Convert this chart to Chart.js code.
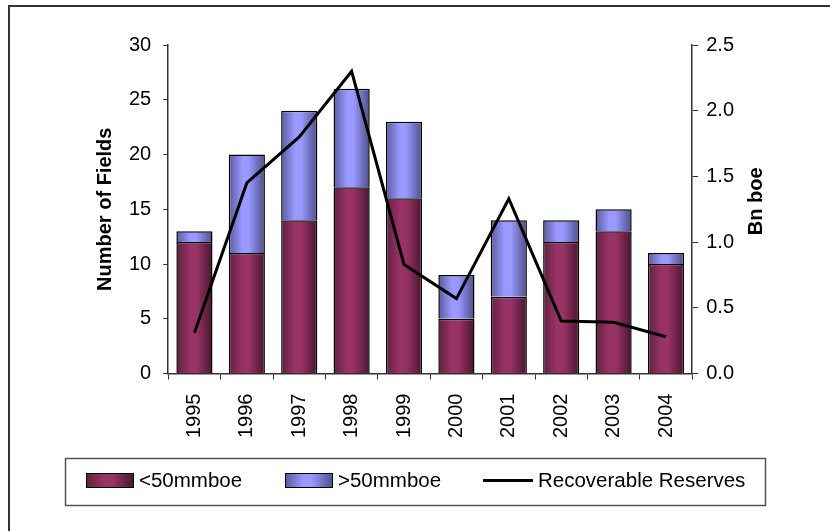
<!DOCTYPE html>
<html>
<head>
<meta charset="utf-8">
<script src="https://cdn.jsdelivr.net/npm/chart.js@4"></script>
<style>
  html, body { margin: 0; padding: 0; background: #fff; }
  #wrap { width: 830px; height: 531px; }
</style>
</head>
<body>
<div id="wrap"><canvas id="myChart" width="830" height="531"></canvas></div>
<script>
// Data
const years = ['1995', '1996', '1997', '1998', '1999', '2000', '2001', '2002', '2003', '2004'];
const smallFields = [12, 11, 14, 17, 16, 5, 7, 12, 13, 10];   // <50mmboe
const largeFields = [1, 9, 10, 9, 7, 4, 7, 2, 2, 1];          // >50mmboe
const reserves = [0.31, 1.45, 1.80, 2.30, 0.83, 0.57, 1.33, 0.40, 0.39, 0.28]; // Bn boe
const leftTicks = [0, 5, 10, 15, 20, 25, 30];
const rightTicks = [0, 0.5, 1.0, 1.5, 2.0, 2.5];

const FONT = "'Liberation Sans', Arial, sans-serif";
const barShare = 0.69;

// cylinder-like shading across each bar
function barFill(edge, base, shade) {
    return function (c) {
        const chart = c.chart;
        const area = chart.chartArea;
        if (!area || c.type !== 'data') return base;
        const x = chart.scales.x.getPixelForValue(c.dataIndex);
        const w = (area.right - area.left) / years.length * barShare;
        const g = chart.ctx.createLinearGradient(x - w / 2, 0, x + w / 2, 0);
        g.addColorStop(0, edge);
        g.addColorStop(0.38, base);
        g.addColorStop(0.55, base);
        g.addColorStop(1, shade);
        return g;
    };
}

const plum = ['#5e2140', '#993366', '#4a1530'];
const blue = ['#5a5a9e', '#9999ff', '#4e4e8a'];

// frame, right axis title, boxed legend
const extras = {
    id: 'extras',
    afterDraw(chart) {
        const ctx = chart.ctx;
        const area = chart.chartArea;
        ctx.save();
        // outer frame
        ctx.strokeStyle = '#333';
        ctx.lineWidth = 2;
        ctx.beginPath();
        ctx.moveTo(9, 531);
        ctx.lineTo(9, 6);
        ctx.lineTo(830, 6);
        ctx.stroke();

        // right axis title
        ctx.fillStyle = '#000';
        ctx.font = 'bold 20px ' + FONT;
        ctx.textAlign = 'center';
        ctx.textBaseline = 'middle';
        ctx.translate(756, (area.top + area.bottom) / 2 - 8);
        ctx.rotate(-Math.PI / 2);
        ctx.fillText('Bn boe', 0, 0);
        ctx.setTransform(1, 0, 0, 1, 0, 0);
        ctx.restore();

        // legend
        ctx.save();
        ctx.strokeStyle = '#555';
        ctx.lineWidth = 1.5;
        ctx.strokeRect(65.5, 458.5, 700, 47);
        ctx.font = '20.5px ' + FONT;
        ctx.textAlign = 'left';
        ctx.textBaseline = 'middle';
        const ds = chart.data.datasets;
        const items = [
            { x: 86, cols: plum, label: ds[1].label },
            { x: 285, cols: blue, label: ds[2].label }
        ];
        items.forEach(function (it) {
            const g = ctx.createLinearGradient(it.x, 0, it.x + 48, 0);
            g.addColorStop(0, it.cols[0]);
            g.addColorStop(0.38, it.cols[1]);
            g.addColorStop(0.55, it.cols[1]);
            g.addColorStop(1, it.cols[2]);
            ctx.fillStyle = g;
            ctx.fillRect(it.x, 473, 48, 15);
            ctx.strokeStyle = '#000';
            ctx.lineWidth = 1;
            ctx.strokeRect(it.x + 0.5, 473.5, 47, 14);
            ctx.fillStyle = '#000';
            ctx.fillText(it.label, it.x + 53, 481);
        });
        ctx.strokeStyle = '#000';
        ctx.lineWidth = 3;
        ctx.beginPath();
        ctx.moveTo(483, 480.5);
        ctx.lineTo(533, 480.5);
        ctx.stroke();
        ctx.fillStyle = '#000';
        ctx.fillText(ds[0].label, 538, 481);
        ctx.restore();
    }
};

const ctx = document.getElementById('myChart').getContext('2d');
const myChart = new Chart(ctx, {
    type: 'bar',
    data: {
        labels: years,
        datasets: [
            {
                type: 'line',
                label: 'Recoverable Reserves',
                data: reserves,
                yAxisID: 'y1',
                borderColor: '#000',
                borderWidth: 3,
                pointRadius: 0,
                tension: 0,
                fill: false,
                order: 0
            },
            {
                label: '<50mmboe',
                data: smallFields,
                yAxisID: 'y',
                backgroundColor: barFill(plum[0], plum[1], plum[2]),
                borderColor: '#000',
                borderWidth: 1.5,
                order: 1
            },
            {
                label: '>50mmboe',
                data: largeFields,
                yAxisID: 'y',
                backgroundColor: barFill(blue[0], blue[1], blue[2]),
                borderColor: '#000',
                borderWidth: 1.5,
                order: 2
            }
        ]
    },
    options: {
        responsive: false,
        animation: false,
        layout: { padding: { left: 89, right: 88, top: 45, bottom: 79 } },
        categoryPercentage: barShare,
        barPercentage: 1,
        plugins: {
            legend: { display: false },
            tooltip: { enabled: false }
        },
        scales: {
            x: {
                stacked: true,
                grid: { offset: true, drawOnChartArea: false, drawTicks: true, tickLength: 6, color: '#333' },
                border: { color: '#333', width: 1.5 },
                ticks: {
                    color: '#000',
                    font: { family: FONT, size: 20 },
                    minRotation: 90,
                    maxRotation: 90,
                    padding: 14
                }
            },
            y: {
                stacked: true,
                position: 'left',
                min: 0,
                max: 30,
                afterBuildTicks: function (s) { s.ticks = leftTicks.map(v => ({ value: v })); },
                grid: { drawOnChartArea: false, drawTicks: true, tickLength: 5, color: '#333' },
                border: { color: '#333', width: 1.5 },
                ticks: { color: '#000', font: { family: FONT, size: 20 }, padding: 12 },
                title: {
                    display: true,
                    text: 'Number of Fields',
                    color: '#000',
                    font: { family: FONT, size: 20, weight: 'bold' },
                    padding: { top: 4, bottom: 0 }
                }
            },
            y1: {
                stacked: false,
                position: 'right',
                min: 0,
                max: 2.5,
                afterBuildTicks: function (s) { s.ticks = rightTicks.map(v => ({ value: v })); },
                grid: { drawOnChartArea: false, drawTicks: true, tickLength: 6, color: '#333' },
                border: { color: '#333', width: 1.5 },
                ticks: {
                    color: '#000',
                    font: { family: FONT, size: 20 },
                    padding: 8,
                    callback: function (v) { return Number(v).toFixed(1); }
                }
            }
        }
    },
    plugins: [extras]
});
</script>
</body>
</html>
